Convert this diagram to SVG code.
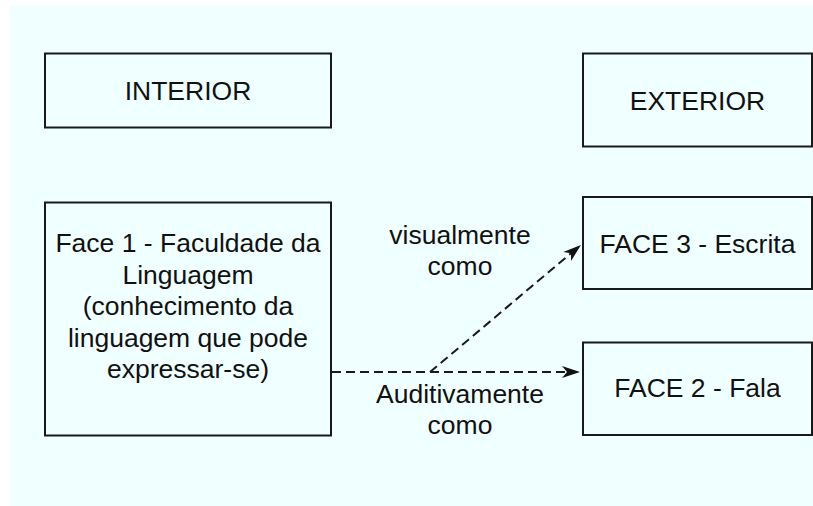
<svg xmlns="http://www.w3.org/2000/svg" width="813" height="506" viewBox="0 0 813 506">
  <style>
    .box { fill: none; stroke: #1a1a1a; stroke-width: 2; }
    .t { font-family: "Liberation Sans", Arial, sans-serif; font-size: 26.5px; fill: #111111; text-anchor: middle; }
    .edge { fill: none; stroke: #1a1a1a; stroke-width: 2; stroke-dasharray: 9 5; }
  </style>
  <defs>
    <marker id="arr" markerUnits="userSpaceOnUse" markerWidth="20" markerHeight="16" viewBox="0 0 20 16" refX="5" refY="8" orient="auto">
      <path d="M0,2 L18,8 L0,14 L5,8 Z" fill="#111111"/>
    </marker>
  </defs>
  <rect x="0" y="0" width="813" height="506" fill="#ffffff"/>
  <rect x="10" y="5" width="803" height="501" fill="#F0FFFF"/>

  <g id="interior">
    <rect class="box" x="45" y="53.5" width="286" height="74"/>
    <text class="t" x="188" y="100">INTERIOR</text>
  </g>
  <g id="exterior">
    <rect class="box" x="583" y="53.5" width="229" height="93"/>
    <text class="t" x="697.5" y="110">EXTERIOR</text>
  </g>
  <g id="face1">
    <rect class="box" x="45" y="202.5" width="286" height="233"/>
    <text class="t" x="188" y="252">Face 1 - Faculdade da</text>
    <text class="t" x="188" y="283.5">Linguagem</text>
    <text class="t" x="188" y="315">(conhecimento da</text>
    <text class="t" x="188" y="346.5">linguagem que pode</text>
    <text class="t" x="188" y="378">expressar-se)</text>
  </g>
  <g id="face3">
    <rect class="box" x="583" y="197" width="229" height="92"/>
    <text class="t" x="697.5" y="253">FACE 3 - Escrita</text>
  </g>
  <g id="face2">
    <rect class="box" x="583" y="342.5" width="229" height="92.5"/>
    <text class="t" x="697.5" y="397">FACE 2 - Fala</text>
  </g>

  <g id="connectors">
    <path class="edge" d="M332,372 H567" marker-end="url(#arr)"/>
    <path class="edge" d="M430,372 L571,253.3" marker-end="url(#arr)"/>
    <text class="t" x="460" y="243.5">visualmente</text>
    <text class="t" x="460" y="275">como</text>
    <text class="t" x="460" y="403">Auditivamente</text>
    <text class="t" x="460" y="433.5">como</text>
  </g>
</svg>
